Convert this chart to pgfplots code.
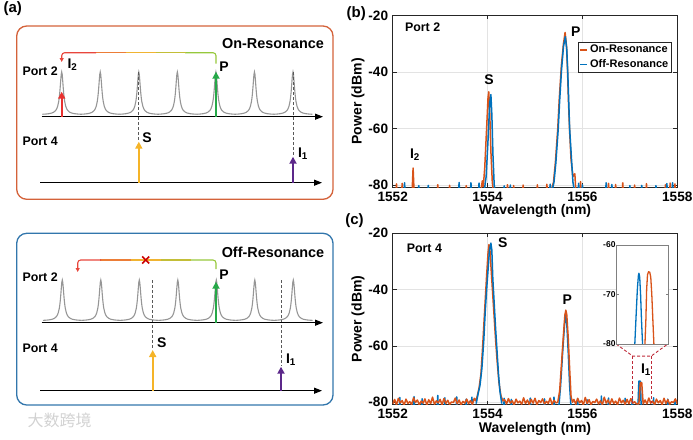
\documentclass[border=0pt]{standalone}
\usepackage{fontspec}
\setmainfont{Liberation Sans}
\newfontfamily\cjk{Noto Sans CJK SC}
\usepackage{pgfplots}
\usepackage{pgfplotstable}
\pgfplotsset{compat=1.18}
\usetikzlibrary{arrows.meta}

\newcommand{\fsz}[1]{\fontsize{#1}{#1}\selectfont\bfseries}

\definecolor{mOrange}{RGB}{217,83,25}
\definecolor{mBlue}{RGB}{0,114,189}
\definecolor{frameOn}{RGB}{212,98,58}
\definecolor{frameOff}{RGB}{50,118,172}
\definecolor{combGray}{RGB}{150,150,150}
\definecolor{arRed}{RGB}{232,49,47}
\definecolor{arGreen}{RGB}{38,168,72}
\definecolor{arYellow}{RGB}{245,180,40}
\definecolor{arPurple}{RGB}{92,40,138}
\definecolor{fbGreen}{RGB}{150,200,60}
\definecolor{fbYellow}{RGB}{240,180,50}
\definecolor{fbRed}{RGB}{232,70,60}
\definecolor{axGray}{RGB}{38,38,38}
\definecolor{zoomRed}{RGB}{190,40,55}

% one resonance of the comb: offset from its centre and height above the axis line (px)
\pgfplotstableread{
dx h
-19.3 2.45
-16 2.66
-13 2.99
-10 3.64
-8 4.51
-6 6.27
-5 7.89
-4 10.54
-3 15.14
-2.5 18.66
-2 23.35
-1.5 29.33
-1 36.16
-0.5 42.19
0 44.7
0.5 42.19
1 36.16
1.5 29.33
2 23.35
2.5 18.66
3 15.14
4 10.54
5 7.89
6 6.27
8 4.51
10 3.64
13 2.99
16 2.66
19.3 2.45
}\resonance

\pgfplotsset{
  spec/.style={
    anchor=south west, scale only axis, width=284.6pt,
    xmin=1552, xmax=1558, ymin=-80.8, ymax=-20,
    xtick={1552,1554,1556,1558}, ytick={-80,-60,-40,-20},
    grid=major, major grid style={line width=0.5pt, draw=gray!22},
    axis line style={axGray, line width=0.8pt},
    tick style={axGray, line width=0.8pt},
    tick align=inside, major tick length=4pt,
    /pgf/number format/assume math mode=true,
    /pgf/number format/1000 sep={},
    xticklabel style={font=\fsz{13.6}, inner sep=1pt, yshift=-3.8pt},
    yticklabel style={font=\fsz{13.6}, inner sep=1pt, xshift=-3.4pt},
    xlabel={Wavelength (nm)}, ylabel={Power (dBm)},
    label style={font=\fsz{14}},
    ylabel style={at={(axis description cs:-0.122,0.5)}, anchor=center},
    no markers,
    every axis plot/.append style={line width=1.5pt, line join=round},
  },
  arrowplot/.style={line width=2pt, -{Triangle[width=7pt,length=7pt]}},
  axisarrow/.style={black, line width=1.2pt, -{Triangle[width=6pt,length=8pt]}},
  fb/.style={line width=1.1pt, rounded corners=3pt},
  fbtip/.style={line width=1.1pt, rounded corners=3pt, -{Triangle[width=4pt,length=4pt]}},
  guide/.style={gray!70!black, line width=0.8pt, dash pattern=on 3pt off 2pt},
}

\begin{document}
\begin{tikzpicture}
\useasboundingbox (0,0) rectangle (693pt,439pt);

% ---------------- panel (a), drawn in image pixel units ----------------
\begin{axis}[at={(0pt,0pt)}, anchor=south west, scale only axis,
  width=345pt, height=439pt, xmin=0, xmax=345, ymin=0, ymax=439,
  y dir=reverse, hide axis, clip=false, no markers]

\draw[frameOn, line width=1.3pt, rounded corners=10pt] (axis cs:16.7,26) rectangle (axis cs:333,199.3);
\draw[frameOff, line width=1.3pt, rounded corners=10pt] (axis cs:16.7,233.3) rectangle (axis cs:333,405);

% on-resonance comb
\pgfplotsinvokeforeach{61.7,100.25,138.8,177.35,215.9,254.45,293.0}{
  \addplot[combGray, line width=1.1pt] table[x expr=\thisrow{dx}+#1, y expr=116.7-\thisrow{h}] {\resonance};
}
\addplot[guide] coordinates {(138.8,72) (138.8,141)};
\addplot[guide] coordinates {(293.0,72) (293.0,156)};
\addplot[axisarrow] coordinates {(41.7,116.7) (323,116.7)};
\addplot[axisarrow] coordinates {(40,182.7) (322,182.7)};
\addplot[arRed, arrowplot] coordinates {(61.7,116.7) (61.7,91.7)};
\addplot[arGreen, arrowplot] coordinates {(216,116.7) (216,71.7)};
\addplot[arYellow, arrowplot] coordinates {(138.8,182.7) (138.8,141.7)};
\addplot[arPurple, arrowplot] coordinates {(293,182.7) (293,156.7)};
\addplot[fbGreen, fb] coordinates {(216,63.5) (216,52.7) (185,52.7)};
\addplot[fbGreen!50!fbYellow, fb] coordinates {(186,52.7) (155,52.7)};
\addplot[fbYellow, fb] coordinates {(156,52.7) (125,52.7)};
\addplot[fbYellow!50!fbRed, fb] coordinates {(126,52.7) (95,52.7)};
\addplot[fbRed, fbtip] coordinates {(96,52.7) (61.7,52.7) (61.7,62)};

\node[font=\fsz{14.4}] at (axis cs:273,44) {On-Resonance};
\node[font=\fsz{12.4}, anchor=west] at (axis cs:19,71) {Port 2};
\node[font=\fsz{12.4}, anchor=west] at (axis cs:19,141.7) {Port 4};
\node[font=\fsz{14}, anchor=west] at (axis cs:64,65) {I\textsubscript{2}};
\node[font=\fsz{14}] at (axis cs:224,67) {P};
\node[font=\fsz{14}] at (axis cs:147,138) {S};
\node[font=\fsz{14}] at (axis cs:303,154) {I\textsubscript{1}};

% off-resonance comb
\pgfplotsinvokeforeach{62.3,100.8,139.3,177.8,216.3,254.8,293.3}{
  \addplot[combGray, line width=1.1pt] table[x expr=\thisrow{dx}+#1, y expr=322.7-0.955*\thisrow{h}] {\resonance};
}
\addplot[guide] coordinates {(152.7,280) (152.7,349)};
\addplot[guide] coordinates {(281,280) (281,366)};
\addplot[axisarrow] coordinates {(41.7,322.7) (323,322.7)};
\addplot[axisarrow] coordinates {(40,390.7) (322,390.7)};
\addplot[arGreen, arrowplot] coordinates {(216,322.7) (216,281.7)};
\addplot[arYellow, arrowplot] coordinates {(152.7,390.7) (152.7,350)};
\addplot[arPurple, arrowplot] coordinates {(281,390.7) (281,366.7)};
\addplot[fbGreen, fb] coordinates {(216,269) (216,260) (190,260)};
\addplot[fbGreen!50!fbYellow, fb] coordinates {(191,260) (160,260)};
\addplot[fbYellow, fb] coordinates {(161,260) (130,260)};
\addplot[fbYellow!50!fbRed, fb] coordinates {(131,260) (100,260)};
\addplot[fbRed, fbtip] coordinates {(101,260) (77.7,260) (77.7,272)};
\addplot[red!80!black, line width=1.6pt] coordinates {(142.2,256.5) (149.2,263.5)};
\addplot[red!80!black, line width=1.6pt] coordinates {(142.2,263.5) (149.2,256.5)};

\node[font=\fsz{14.4}] at (axis cs:273,252) {Off-Resonance};
\node[font=\fsz{12.4}, anchor=west] at (axis cs:19,277.3) {Port 2};
\node[font=\fsz{12.4}, anchor=west] at (axis cs:19,348.3) {Port 4};
\node[font=\fsz{14}] at (axis cs:224,274.3) {P};
\node[font=\fsz{14}] at (axis cs:161.7,342.7) {S};
\node[font=\fsz{14}] at (axis cs:291,360) {I\textsubscript{1}};

\node[font=\fsz{15}, anchor=west] at (axis cs:0,8.3) {(a)};
\node[font=\cjk\fontsize{16}{16}\selectfont, text=gray!35, anchor=west] at (axis cs:24,420) {大数跨境};
\end{axis}

% ---------------- panel (b): port 2 ----------------
\begin{axis}[spec, at={(392.7pt,251.7pt)}, height=171.8pt,
  xlabel style={at={(axis description cs:0.5,-0.14)}, anchor=center},
  legend style={at={(0.98,0.846)}, anchor=north east, font=\fsz{11},
    draw=axGray, line width=0.6pt, inner sep=1pt, row sep=1.5pt},
  legend cell align=left,
  legend image code/.code={\draw[#1, line width=1.5pt] (0pt,0pt) -- (7pt,0pt);}]
\addplot[mOrange] coordinates {
(1552.00,-82)(1552.07,-82)(1552.08,-79.6)(1552.09,-82)(1552.19,-82)(1552.20,-79.4)(1552.21,-82)
(1552.41,-82)(1552.43,-74)(1552.45,-82)
(1552.94,-82)(1552.95,-79.9)(1552.96,-82)(1553.19,-82)(1553.20,-80.1)(1553.21,-82)
(1553.54,-82)(1553.55,-80.2)(1553.56,-82)
(1553.86,-82)(1553.89,-78.5)(1553.91,-80.5)(1553.94,-74)(1553.98,-60)(1554.01,-49)(1554.025,-47)(1554.045,-54)(1554.07,-68)(1554.10,-79)(1554.12,-82)
(1554.41,-82)(1554.42,-79.9)(1554.43,-82)(1554.54,-82)(1554.55,-80.2)(1554.56,-82)
(1554.74,-82)(1554.75,-80.0)(1554.76,-82)(1555.04,-82)(1555.05,-79.9)(1555.06,-82)
(1555.24,-82)(1555.25,-79.7)(1555.26,-82)
(1555.34,-82)(1555.39,-79)(1555.43,-72)(1555.48,-60)(1555.51,-50)(1555.555,-38)(1555.60,-30)(1555.635,-26)(1555.665,-31)(1555.685,-39)(1555.705,-50)(1555.73,-61)(1555.76,-71)(1555.80,-77)(1555.84,-76)(1555.86,-82)
(1555.95,-82)(1555.96,-78.8)(1555.97,-82)(1556.54,-82)(1556.55,-79.4)(1556.56,-82)
(1556.69,-82)(1556.70,-79.8)(1556.71,-82)(1556.84,-82)(1556.85,-79.2)(1556.86,-82)
(1557.09,-82)(1557.10,-80.0)(1557.11,-82)(1557.34,-82)(1557.35,-79.5)(1557.36,-82)
(1557.74,-82)(1557.75,-79.9)(1557.76,-82)(1557.84,-82)(1557.85,-79.3)(1557.86,-82)
(1557.94,-82)(1557.95,-79.6)(1557.96,-82)(1558.00,-82)
};
\addlegendentry{On-Resonance}
\addplot[mBlue] coordinates {
(1552.00,-82)(1552.24,-82)(1552.25,-79.2)(1552.26,-82)(1552.54,-82)(1552.55,-80.2)(1552.56,-82)
(1552.74,-82)(1552.75,-80.1)(1552.76,-82)(1553.39,-82)(1553.40,-79.1)(1553.41,-82)
(1553.64,-82)(1553.65,-79.2)(1553.66,-82)(1553.81,-82)(1553.82,-79.3)(1553.83,-82)
(1553.93,-82)(1553.97,-77)(1554.01,-64)(1554.045,-51)(1554.07,-48)(1554.09,-55)(1554.115,-70)(1554.14,-80)(1554.16,-82)
(1554.34,-82)(1554.35,-80.3)(1554.36,-82)(1554.47,-82)(1554.48,-80.0)(1554.49,-82)
(1555.31,-82)(1555.32,-79.7)(1555.33,-82)
(1555.36,-82)(1555.40,-79)(1555.44,-72)(1555.49,-60)(1555.52,-50)(1555.56,-39)(1555.60,-31)(1555.64,-27.5)(1555.67,-32)(1555.69,-40)(1555.71,-50)(1555.73,-60)(1555.77,-71)(1555.80,-79)(1555.83,-82)
(1555.91,-82)(1555.92,-79.4)(1555.93,-82)(1555.99,-82)(1556.00,-79.9)(1556.01,-82)
(1556.49,-82)(1556.50,-79.2)(1556.51,-82)(1556.61,-82)(1556.62,-79.8)(1556.63,-82)
(1556.99,-82)(1557.00,-80.2)(1557.01,-82)(1557.24,-82)(1557.25,-80.1)(1557.26,-82)
(1557.54,-82)(1557.55,-80.2)(1557.56,-82)(1557.77,-82)(1557.78,-79.5)(1557.79,-82)
(1557.89,-82)(1557.90,-79.2)(1557.91,-82)(1558.00,-82)
};
\addlegendentry{Off-Resonance}
\node[font=\fsz{12.4}, anchor=west] at (rel axis cs:0.031,0.929) {Port 2};
\node[font=\fsz{14}] at (axis cs:1554.03,-42.8) {S};
\node[font=\fsz{14}] at (axis cs:1555.86,-25.9) {P};
\node[font=\fsz{14}] at (axis cs:1552.47,-69.4) {I\textsubscript{2}};
\end{axis}

% ---------------- panel (c): port 4 ----------------
\begin{axis}[spec, at={(392.7pt,34.5pt)}, height=171.2pt,
  xlabel style={at={(axis description cs:0.5,-0.143)}, anchor=center}]
\addplot[mBlue] coordinates {
(1552.00,-82)(1552.14,-82)(1552.15,-78.3)(1552.16,-82)(1552.44,-82)(1552.45,-78.0)(1552.46,-82)
(1552.61,-82)(1552.62,-78.8)(1552.63,-82)(1552.94,-82)(1552.95,-77.6)(1552.96,-82)
(1553.09,-82)(1553.10,-78.4)(1553.11,-82)(1553.34,-82)(1553.35,-78.1)(1553.36,-82)
(1553.54,-82)(1553.55,-78.9)(1553.56,-82)(1553.66,-82)(1553.67,-78.2)(1553.68,-82)
(1554.34,-82)(1554.35,-78.6)(1554.36,-82)(1554.49,-82)(1554.50,-79.0)(1554.51,-82)
(1554.89,-82)(1554.90,-78.5)(1554.91,-82)(1555.19,-82)(1555.20,-78.8)(1555.21,-82)
(1555.39,-82)(1555.40,-78.2)(1555.41,-82)
(1555.50,-82)(1555.54,-74)(1555.58,-63)(1555.62,-53)(1555.645,-49)(1555.67,-52)(1555.70,-62)(1555.73,-74)(1555.76,-82)
(1555.89,-82)(1555.90,-78.7)(1555.91,-82)(1556.09,-82)(1556.10,-79.1)(1556.11,-82)
(1556.39,-82)(1556.40,-77.8)(1556.41,-82)(1556.54,-82)(1556.55,-78.5)(1556.56,-82)
(1556.89,-82)(1556.90,-78.6)(1556.91,-82)(1557.04,-82)(1557.05,-78.9)(1557.06,-82)
(1557.17,-82)(1557.19,-72.5)(1557.22,-72.5)(1557.24,-82)
(1557.49,-82)(1557.50,-78.4)(1557.51,-82)(1557.79,-82)(1557.80,-78.9)(1557.81,-82)
(1557.94,-82)(1557.95,-79.1)(1557.96,-82)(1558.00,-82)
};
\addplot[mOrange] coordinates {
(1552.00,-80.6)(1552.04,-79.0)(1552.08,-80.9)(1552.12,-78.6)(1552.16,-80.2)(1552.20,-79.4)(1552.24,-81.0)(1552.28,-78.9)(1552.32,-80.4)(1552.36,-79.8)
(1552.40,-80.8)(1552.44,-78.4)(1552.48,-80.1)(1552.52,-79.2)(1552.56,-80.9)(1552.60,-79.6)(1552.64,-80.3)(1552.68,-78.8)(1552.72,-81.0)(1552.76,-79.1)
(1552.80,-80.5)(1552.84,-78.2)(1552.88,-80.7)(1552.92,-79.5)(1552.96,-80.2)(1553.00,-79.0)(1553.04,-80.9)(1553.08,-78.7)(1553.12,-80.4)(1553.16,-79.3)
(1553.20,-80.8)(1553.24,-79.9)(1553.28,-80.1)(1553.32,-78.5)(1553.36,-80.6)(1553.40,-79.2)(1553.44,-80.9)(1553.48,-79.7)(1553.52,-80.3)(1553.56,-78.9)
(1553.60,-80.5)(1553.64,-79.4)(1553.68,-80.8)(1553.72,-78.6)
(1553.75,-79.5)(1553.78,-78)(1553.82,-75)(1553.86,-70)(1553.89,-62)(1553.92,-53)(1553.95,-44)(1553.98,-35)(1554.01,-27)(1554.03,-24)
(1554.05,-26)(1554.08,-34)(1554.11,-42)(1554.14,-50)(1554.17,-58)(1554.20,-65)(1554.24,-73)(1554.28,-77.5)(1554.32,-79.5)
(1554.36,-79.1)(1554.40,-80.6)(1554.44,-78.7)(1554.48,-80.3)(1554.52,-79.5)(1554.56,-80.9)(1554.60,-78.9)(1554.64,-80.2)(1554.68,-79.6)(1554.72,-80.7)
(1554.76,-78.4)(1554.80,-80.5)(1554.84,-79.2)(1554.88,-80.8)(1554.92,-79.0)(1554.96,-80.3)(1555.00,-78.6)(1555.04,-80.9)(1555.08,-79.4)(1555.12,-80.1)
(1555.16,-78.8)(1555.20,-80.6)(1555.24,-79.7)(1555.28,-80.4)(1555.32,-78.5)(1555.36,-80.8)(1555.40,-79.3)(1555.44,-80.2)
(1555.48,-80)(1555.52,-76)(1555.56,-66)(1555.60,-56)(1555.63,-49)(1555.65,-47.3)(1555.67,-49)(1555.70,-57)(1555.73,-68)(1555.76,-78)(1555.79,-80)
(1555.82,-79.0)(1555.86,-80.7)(1555.90,-78.6)(1555.94,-80.2)(1555.98,-79.4)(1556.02,-80.9)(1556.06,-78.3)(1556.10,-80.5)(1556.14,-79.1)(1556.18,-80.8)
(1556.22,-79.7)(1556.26,-80.1)(1556.30,-78.9)(1556.34,-80.6)(1556.38,-79.5)(1556.42,-80.9)(1556.46,-78.2)(1556.50,-80.3)(1556.54,-79.2)(1556.58,-80.7)
(1556.62,-78.8)(1556.66,-80.4)(1556.70,-79.6)(1556.74,-80.9)(1556.78,-78.5)(1556.82,-80.2)(1556.86,-79.3)(1556.90,-80.8)(1556.94,-79.0)(1556.98,-80.5)
(1557.02,-78.7)(1557.06,-80.3)(1557.10,-79.8)(1557.14,-80.6)
(1557.19,-80.6)(1557.22,-73)(1557.25,-73)(1557.28,-80.6)
(1557.32,-79.2)(1557.36,-80.6)(1557.40,-78.5)(1557.44,-80.3)(1557.48,-79.6)(1557.52,-80.9)(1557.56,-78.9)(1557.60,-80.2)(1557.64,-79.4)(1557.68,-80.8)
(1557.72,-78.6)(1557.76,-80.4)(1557.80,-79.1)(1557.84,-80.7)(1557.88,-79.8)(1557.92,-80.1)(1557.96,-78.8)(1558.00,-80.5)
};
\addplot[mBlue] coordinates {
(1553.76,-80.5)(1553.80,-77)(1553.84,-74)(1553.88,-68)(1553.92,-58)(1553.95,-48)(1553.98,-40)(1554.01,-33)(1554.04,-26)(1554.07,-23.5)
(1554.09,-26)(1554.11,-36)(1554.14,-45)(1554.17,-54)(1554.20,-62)(1554.23,-70)(1554.26,-76)(1554.30,-80.5)
};
\draw[zoomRed, line width=0.9pt, dash pattern=on 3pt off 2pt]
  (axis cs:1556.71,-59.3) -- (axis cs:1557.06,-63.6) -- (axis cs:1557.45,-63.6) -- (axis cs:1557.80,-59.3);
\draw[zoomRed, line width=0.9pt, dash pattern=on 3pt off 2pt] (axis cs:1557.06,-63.6) -- (axis cs:1557.06,-80.4);
\draw[zoomRed, line width=0.9pt, dash pattern=on 3pt off 2pt] (axis cs:1557.45,-63.6) -- (axis cs:1557.45,-80.4);
\node[font=\fsz{12.4}, anchor=west] at (rel axis cs:0.037,0.912) {Port 4};
\node[font=\fsz{14}] at (axis cs:1554.32,-23.2) {S};
\node[font=\fsz{14}] at (axis cs:1555.68,-43.7) {P};
\node[font=\fsz{14}] at (axis cs:1557.34,-68.5) {I\textsubscript{1}};
\end{axis}

% inset of the idler
\begin{axis}[at={(616.7pt,95pt)}, anchor=south west, scale only axis,
  width=51.6pt, height=99pt, xmin=1557.1, xmax=1557.45, ymin=-80, ymax=-60,
  xtick=\empty, ytick={-80,-70,-60},
  axis line style={draw=gray, line width=0.8pt}, tick style={draw=gray, line width=0.6pt},
  tick align=inside, major tick length=2pt,
  /pgf/number format/assume math mode=true,
  yticklabel style={font=\fsz{8.5}, inner sep=1pt},
  axis background/.style={fill=white}, no markers,
  every axis plot/.append style={line width=1.3pt, line join=round}]
\addplot[mBlue] coordinates {
(1557.222,-80.5)(1557.232,-74)(1557.240,-69)(1557.247,-66.2)(1557.251,-65.7)(1557.256,-66.5)(1557.262,-70)(1557.268,-75)(1557.276,-80.5)
};
\addplot[mOrange] coordinates {
(1557.291,-80.5)(1557.298,-75)(1557.303,-69)(1557.309,-66)(1557.316,-65.4)(1557.324,-65.5)(1557.331,-66.5)(1557.338,-70)(1557.345,-75)(1557.353,-80.5)
};
\end{axis}

\node[font=\fsz{15}] at (356.3pt,425.7pt) {(b)};
\node[font=\fsz{15}] at (354.5pt,218pt) {(c)};
\end{tikzpicture}
\end{document}
